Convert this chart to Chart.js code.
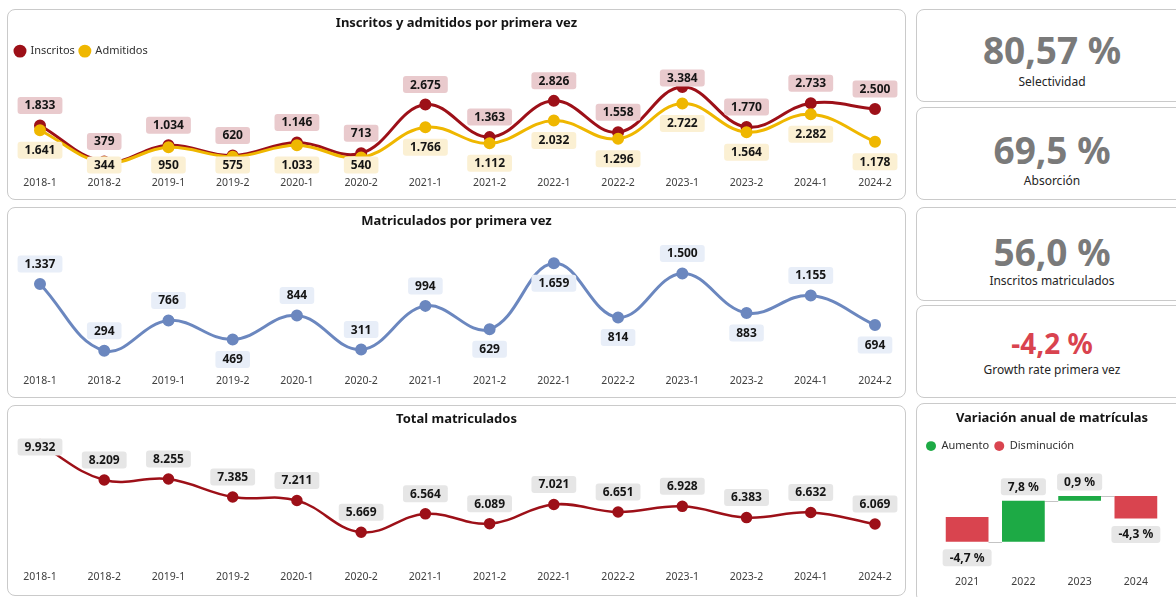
<!DOCTYPE html>
<html lang="es">
<head>
<meta charset="utf-8">
<title>Inscritos, admitidos y matriculados</title>
<script src="https://cdn.jsdelivr.net/npm/chart.js@4.4.1/dist/chart.umd.min.js"></script>
<style>
  html, body { margin: 0; padding: 0; background: #fff; width: 1176px; height: 597px; overflow: hidden; font-family: "Noto Sans", sans-serif; }
  .panel { position: absolute; background: #fff; border: 1px solid #cacaca; border-radius: 8px; box-sizing: border-box; }
  canvas { position: absolute; }
  .valor { position: absolute; left: 0; right: 0; text-align: center; font-weight: 700; color: #7a7a7a; }
  .nombre { position: absolute; left: 0; right: 0; text-align: center; font-size: 12px; line-height: 16px; color: #252525; }
</style>
</head>
<body>

<div class="panel" style="left:7px;top:9px;width:899px;height:191px"></div>
<canvas id="inscritos" width="899" height="191" style="left:7px;top:9px"></canvas>

<div class="panel" style="left:7px;top:207px;width:899px;height:191px"></div>
<canvas id="primeraVez" width="899" height="191" style="left:7px;top:207px"></canvas>

<div class="panel" style="left:7px;top:405px;width:899px;height:191px"></div>
<canvas id="total" width="899" height="191" style="left:7px;top:405px"></canvas>

<div class="panel" style="left:916px;top:9px;width:272px;height:93px">
  <div class="valor" style="top:19px;font-size:37px;line-height:42px">80,57 %</div>
  <div class="nombre" style="top:64px">Selectividad</div>
</div>
<div class="panel" style="left:916px;top:107px;width:272px;height:93px">
  <div class="valor" style="top:21px;font-size:37px;line-height:42px">69,5 %</div>
  <div class="nombre" style="top:65px">Absorción</div>
</div>
<div class="panel" style="left:916px;top:207px;width:272px;height:94px">
  <div class="valor" style="top:23px;font-size:37px;line-height:42px">56,0 %</div>
  <div class="nombre" style="top:65px">Inscritos matriculados</div>
</div>
<div class="panel" style="left:916px;top:305px;width:272px;height:93px">
  <div class="valor" style="top:21px;font-size:28px;line-height:32px;color:#d9434f">-4,2 %</div>
  <div class="nombre" style="top:56px">Growth rate primera vez</div>
</div>

<div class="panel" style="left:916px;top:403px;width:272px;height:200px"></div>
<canvas id="variacion" width="272" height="194" style="left:916px;top:403px"></canvas>

<script>
// datos
const periodos = ['2018-1', '2018-2', '2019-1', '2019-2', '2020-1', '2020-2', '2021-1',
                  '2021-2', '2022-1', '2022-2', '2023-1', '2023-2', '2024-1', '2024-2'];
const inscritos = [1833, 379, 1034, 620, 1146, 713, 2675, 1363, 2826, 1558, 3384, 1770, 2733, 2500];
const admitidos = [1641, 344, 950, 575, 1033, 540, 1766, 1112, 2032, 1296, 2722, 1564, 2282, 1178];
const matriculadosPrimeraVez = [1337, 294, 766, 469, 844, 311, 994, 629, 1659, 814, 1500, 883, 1155, 694];
const totalMatriculados = [9932, 8209, 8255, 7385, 7211, 5669, 6564, 6089, 7021, 6651, 6928, 6383, 6632, 6069];
const anios = ['2021', '2022', '2023', '2024'];
const variacionAnual = [-4.7, 7.8, 0.9, -4.3];

// donde va la etiqueta de cada punto de matriculados por primera vez
const posPrimeraVez = ['arriba', 'arriba', 'arriba', 'abajo', 'arriba', 'arriba', 'arriba',
                       'abajo', 'abajo', 'abajo', 'arriba', 'abajo', 'arriba', 'abajo'];

const ROJO = '#9d1018';
const AMARILLO = '#efb700';
const AZUL = '#6b87bf';
const VERDE = '#1daa45';
const ROJO_CLARO = '#d9444f';
const FUENTE = '"Noto Sans", sans-serif';

const miles = n => String(n).replace(/\B(?=(\d{3})+(?!\d))/g, '.');
const porcentaje = n => n.toFixed(1).replace('.', ',') + ' %';

// etiquetas de datos con caja de fondo
const etiquetas = {
  id: 'etiquetas',
  afterDatasetsDraw(chart) {
    const { ctx, chartArea } = chart;
    chart.data.datasets.forEach((ds, i) => {
      const et = ds.etiquetas;
      if (!et) return;
      const meta = chart.getDatasetMeta(i);
      ctx.save();
      ctx.font = 'bold 12px ' + FUENTE;
      ctx.textAlign = 'center';
      ctx.textBaseline = 'middle';
      meta.data.forEach((el, j) => {
        const v = Array.isArray(ds.data[j]) ? et.valores[j] : ds.data[j];
        const texto = et.formato(v);
        const pos = Array.isArray(et.posicion) ? et.posicion[j] : (typeof et.posicion === 'function' ? et.posicion(v) : et.posicion);
        let arriba = el.y, abajo = el.y;
        if (meta.type === 'bar') { arriba = Math.min(el.y, el.base); abajo = Math.max(el.y, el.base); }
        const h = 17;
        const w = ctx.measureText(texto).width + 14;
        let cy = pos === 'arriba' ? arriba - et.distancia[0] : abajo + et.distancia[1];
        cy = Math.max(chartArea.top + (et.margen || 0) + h / 2, Math.min(chartArea.bottom - h / 2, cy));
        ctx.fillStyle = et.fondo;
        ctx.beginPath();
        ctx.roundRect(el.x - w / 2, cy - h / 2, w, h, 3);
        ctx.fill();
        ctx.fillStyle = '#151515';
        ctx.fillText(texto, el.x, cy + 0.5);
      });
      ctx.restore();
    });
  }
};

// lineas grises entre barras de la cascada
const conectores = {
  id: 'conectores',
  beforeDatasetsDraw(chart) {
    const meta = chart.getDatasetMeta(0);
    const datos = chart.data.datasets[0].data;
    const y = chart.scales.y;
    const ctx = chart.ctx;
    ctx.save();
    ctx.strokeStyle = '#c4c4c4';
    ctx.lineWidth = 1;
    for (let i = 0; i < meta.data.length - 1; i++) {
      const a = meta.data[i], b = meta.data[i + 1];
      const py = Math.round(y.getPixelForValue(datos[i][1])) + 0.5;
      ctx.beginPath();
      ctx.moveTo(a.x + a.width / 2, py);
      ctx.lineTo(b.x - b.width / 2, py);
      ctx.stroke();
    }
    ctx.restore();
  }
};

const ejeOculto = (ancho, extra) => Object.assign({
  display: true,
  ticks: { display: false },
  grid: { display: false, drawTicks: false },
  border: { display: false },
  afterFit: s => { s.width = ancho; }
}, extra);

const ejeX = {
  grid: { display: false, drawTicks: false },
  border: { display: false },
  ticks: { color: '#404040', font: { family: FUENTE, size: 10.5 }, maxRotation: 0, autoSkip: false }
};

const titulo = (texto, abajo) => ({
  display: true,
  text: texto,
  color: '#151515',
  font: { family: FUENTE, size: 13, weight: 'bold' },
  padding: { top: 6, bottom: abajo }
});

const leyenda = {
  display: true,
  align: 'start',
  labels: {
    usePointStyle: true,
    pointStyle: 'circle',
    pointStyleWidth: 10,
    boxHeight: 7,
    padding: 5,
    color: '#303030',
    font: { family: FUENTE, size: 11 }
  }
};

const linea = (label, data, color, extra) => Object.assign({
  label: label,
  data: data,
  borderColor: color,
  backgroundColor: color,
  pointBackgroundColor: color,
  pointBorderColor: color,
  borderWidth: 3,
  pointRadius: 4.5,
  pointHoverRadius: 4.5,
  tension: 0.4
}, extra);

Chart.defaults.font.family = FUENTE;

// Inscritos y admitidos
new Chart(document.getElementById('inscritos'), {
  type: 'line',
  data: {
    labels: periodos,
    datasets: [
      linea('Inscritos', inscritos, ROJO, {
        order: 1,
        etiquetas: { fondo: '#e9cacd', posicion: 'arriba', distancia: [20, 20], margen: 3, formato: miles }
      }),
      linea('Admitidos', admitidos, AMARILLO, {
        order: 0,
        etiquetas: { fondo: '#fbf0d3', posicion: 'abajo', distancia: [20, 20], formato: miles }
      })
    ]
  },
  options: {
    responsive: false,
    animation: false,
    layout: { padding: { left: 3, right: 3, top: 0, bottom: 8 } },
    plugins: {
      title: titulo('Inscritos y admitidos por primera vez', 10),
      legend: Object.assign({}, leyenda, {
        labels: Object.assign({}, leyenda.labels, { sort: (a, b) => a.datasetIndex - b.datasetIndex })
      }),
      tooltip: { enabled: false }
    },
    scales: {
      x: ejeX,
      y: ejeOculto(30, { min: -101, max: 4209 }),
      y2: ejeOculto(28, { position: 'right' })
    }
  },
  plugins: [etiquetas]
});

// Matriculados por primera vez
new Chart(document.getElementById('primeraVez'), {
  type: 'line',
  data: {
    labels: periodos,
    datasets: [
      linea('Matriculados por primera vez', matriculadosPrimeraVez, AZUL, {
        etiquetas: { fondo: '#e8eef8', posicion: posPrimeraVez, distancia: [20, 20], formato: miles }
      })
    ]
  },
  options: {
    responsive: false,
    animation: false,
    layout: { padding: { left: 3, right: 3, top: 0, bottom: 8 } },
    plugins: {
      title: titulo('Matriculados por primera vez', 6),
      legend: { display: false },
      tooltip: { enabled: false }
    },
    scales: {
      x: ejeX,
      y: ejeOculto(30, { min: -30, max: 2108 }),
      y2: ejeOculto(28, { position: 'right' })
    }
  },
  plugins: [etiquetas]
});

// Total matriculados
new Chart(document.getElementById('total'), {
  type: 'line',
  data: {
    labels: periodos,
    datasets: [
      linea('Total matriculados', totalMatriculados, ROJO, {
        borderWidth: 2.5,
        etiquetas: { fondo: '#e6e6e6', posicion: 'arriba', distancia: [20, 20], formato: miles }
      })
    ]
  },
  options: {
    responsive: false,
    animation: false,
    layout: { padding: { left: 3, right: 3, top: 0, bottom: 10 } },
    plugins: {
      title: titulo('Total matriculados', 12),
      legend: { display: false },
      tooltip: { enabled: false }
    },
    scales: {
      x: ejeX,
      y: ejeOculto(30, { min: 3963, max: 10219 }),
      y2: ejeOculto(28, { position: 'right' })
    }
  },
  plugins: [etiquetas]
});

// Variacion anual (cascada)
let acumulado = 0;
const tramos = variacionAnual.map(v => {
  const tramo = [acumulado, acumulado + v];
  acumulado += v;
  return tramo;
});

new Chart(document.getElementById('variacion'), {
  type: 'bar',
  data: {
    labels: anios,
    datasets: [{
      label: 'Variación',
      data: tramos,
      backgroundColor: variacionAnual.map(v => v >= 0 ? VERDE : ROJO_CLARO),
      borderWidth: 0,
      barPercentage: 0.76,
      categoryPercentage: 1,
      etiquetas: {
        fondo: '#e6e6e6',
        valores: variacionAnual,
        posicion: v => v >= 0 ? 'arriba' : 'abajo',
        distancia: [14, 16],
        formato: porcentaje
      }
    }]
  },
  options: {
    responsive: false,
    animation: false,
    layout: { padding: { left: 5, right: 5, top: 0, bottom: 6 } },
    plugins: {
      title: Object.assign(titulo('Variación anual de matrículas', 10), { padding: { top: 7, bottom: 10 } }),
      legend: Object.assign({}, leyenda, {
        labels: Object.assign({}, leyenda.labels, {
          generateLabels: () => [
            { text: 'Aumento', fillStyle: VERDE, strokeStyle: VERDE, pointStyle: 'circle', lineWidth: 0, fontColor: '#303030' },
            { text: 'Disminución', fillStyle: ROJO_CLARO, strokeStyle: ROJO_CLARO, pointStyle: 'circle', lineWidth: 0, fontColor: '#303030' }
          ]
        })
      }),
      tooltip: { enabled: false }
    },
    scales: {
      x: ejeX,
      y: ejeOculto(18, { min: -10.55, max: 10.55 }),
      y2: ejeOculto(19, { position: 'right' })
    }
  },
  plugins: [conectores, etiquetas]
});
</script>
</body>
</html>
